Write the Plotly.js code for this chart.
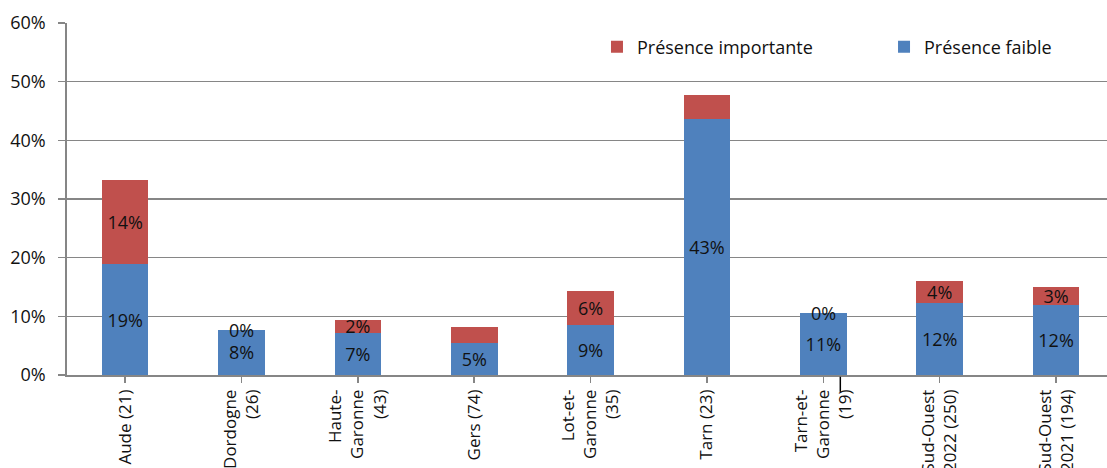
<!DOCTYPE html>
<html><head><meta charset="utf-8">
<script src="https://cdn.plot.ly/plotly-3.0.1.min.js"></script>
<style>html,body{margin:0;padding:0;background:#fff}#c{width:1107px;height:468px}</style>
</head><body><div id="c"></div>
<script>
const categories = ["Aude (21)", "Dordogne<br>(26)", "Haute-<br>Garonne<br>(43)", "Gers (74)", "Lot-et-<br>Garonne<br>(35)", "Tarn (23)", "Tarn-et-<br>Garonne<br>(19)", "Sud-Ouest<br>2022 (250)", "Sud-Ouest<br>2021 (194)"];
const faible = [0.189, 0.077, 0.072, 0.054, 0.086, 0.436, 0.105, 0.123, 0.119];
const importante = [0.143, 0.0, 0.022, 0.027, 0.057, 0.041, 0.0, 0.037, 0.031];
const faibleLabels = ["19%", "8%", "7%", "5%", "9%", "43%", "11%", "12%", "12%"];
const importanteLabels = ["14%", "0%", "2%", "", "6%", "", "0%", "4%", "3%"];

const FONT = "Open Sans, Liberation Sans, sans-serif";
const idx = categories.map((_, i) => i);
const txtFont = {family: FONT, size: 18, color: "#111"};

const tBlue = {
  type: "bar", name: "Présence faible", x: idx, y: faible, legend: "legend2",
  marker: {color: "#4F81BD"}, width: 0.4,
  text: faibleLabels, textposition: "inside", insidetextanchor: "middle",
  constraintext: "none", textfont: txtFont, insidetextfont: txtFont, textangle: 0,
  hoverinfo: "skip"
};
const tRed = {
  type: "bar", name: "Présence importante", x: idx, y: importante, legend: "legend",
  marker: {color: "#C0504D"}, width: 0.4,
  text: importante.map((v, i) => v > 0 ? importanteLabels[i] : ""),
  textposition: "inside", insidetextanchor: "middle",
  constraintext: "none", textfont: txtFont, insidetextfont: txtFont, textangle: 0,
  hoverinfo: "skip"
};

const annotations = [];
importante.forEach((v, i) => {
  if (v === 0 && importanteLabels[i]) {
    annotations.push({x: i, y: faible[i] + v, xref: "x", yref: "y", text: importanteLabels[i],
      showarrow: false, yanchor: "middle", font: txtFont});
  }
});

const legFont = {family: FONT, size: 18, color: "#111"};
const GRID = "#868686";
const layout = {
  width: 1107, height: 468,
  margin: {l: 67, r: 0, t: 23, b: 93},
  paper_bgcolor: "#fff", plot_bgcolor: "#fff",
  barmode: "stack",
  showlegend: true,
  legend: {orientation: "h", x: 0.5096, xanchor: "left", y: 0.932, yanchor: "middle",
    font: legFont, bgcolor: "#fff"},
  legend2: {orientation: "h", x: 0.7856, xanchor: "left", y: 0.932, yanchor: "middle",
    font: legFont, bgcolor: "#fff"},
  xaxis: {
    range: [-0.5, 8.438], tickmode: "array", tickvals: idx, ticktext: categories,
    tickangle: -90, tickson: "boundaries", ticks: "outside", ticklen: 6, tickcolor: GRID, tickwidth: 1.6,
    showline: true, linecolor: GRID, linewidth: 1.8, showgrid: false, zeroline: false,
    tickfont: {family: FONT, size: 17, color: "#111"}, automargin: false, fixedrange: true
  },
  yaxis: {
    range: [0, 0.6], dtick: 0.1, tickformat: ".0%", ticks: "outside", ticklen: 7,
    ticklabelstandoff: 9,
    tickcolor: GRID, tickwidth: 1.6, showline: true, linecolor: GRID, linewidth: 1.8,
    showgrid: true, gridcolor: GRID, gridwidth: 1.6, zeroline: false,
    tickfont: {family: FONT, size: 18, color: "#111"}, automargin: false, fixedrange: true
  },
  annotations: annotations,
  shapes: [{type: "line", xref: "x", yref: "paper", x0: 6.146, x1: 6.146, y0: -0.005, y1: -0.048,
    line: {color: "#000", width: 1.5}}]
};

Plotly.newPlot("c", [tBlue, tRed], layout, {displayModeBar: false, staticPlot: true});
</script></body></html>
